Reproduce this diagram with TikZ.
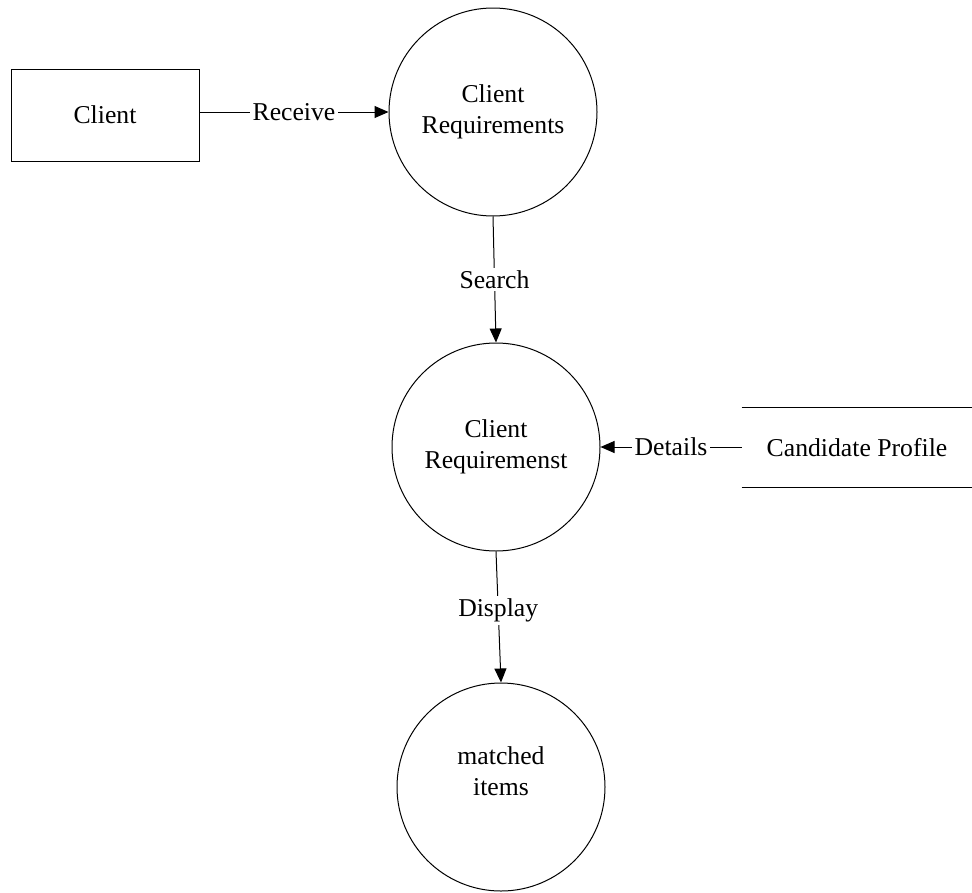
\documentclass[tikz,border=0pt]{standalone}
\usepackage{fontspec}
\setmainfont{Liberation Serif}
\usetikzlibrary{arrows.meta}

\tikzset{
  every picture/.style={line width=1pt},
  txt/.style={font=\fontsize{25.7}{31}\selectfont, align=center, inner sep=0pt},
  proc/.style={draw, circle, minimum size=208pt, inner sep=0pt},
  entity/.style={draw, rectangle, minimum width=188pt, minimum height=92pt, inner sep=0pt},
  store/.style={rectangle, minimum width=230pt, minimum height=79pt, inner sep=0pt},
  flow/.style={-{Triangle[length=14pt,width=12pt]}},
  flowlabel/.style={txt, fill=white, inner sep=2.5pt}
}

\begin{document}
\begin{tikzpicture}[x=1pt, y=-1pt]
  \useasboundingbox (0,0) rectangle (972,892);

  % external entity
  \node[entity, txt] (client) at (105,115) {Client};

  % processes
  \node[proc, txt] (req1) at (493,112) {Client\\Requirements};
  \node[proc, txt] (req2) at (496,447) {Client\\Requiremenst};
  \node[proc] (req3) at (501,787) {};
  \node[txt] (req3text) at (501,771) {matched\\items};

  % data store: open-ended, top and bottom lines only
  \node[store, txt] (profile) at (857,447.5) {Candidate Profile};
  \draw (profile.north west) -- (profile.north east);
  \draw (profile.south west) -- (profile.south east);

  % data flows
  \draw[flow] (client.east |- req1.west) -- node[flowlabel] {Receive} (req1.west);
  \draw[flow] (req1.south) -- node[flowlabel] {Search} (req2.north);
  \draw[flow] (profile.west |- req2.east) -- node[flowlabel] {Details} (req2.east);
  \draw[flow] (req2.south) -- node[flowlabel, pos=0.45] {Display} (req3.north);
\end{tikzpicture}
\end{document}
